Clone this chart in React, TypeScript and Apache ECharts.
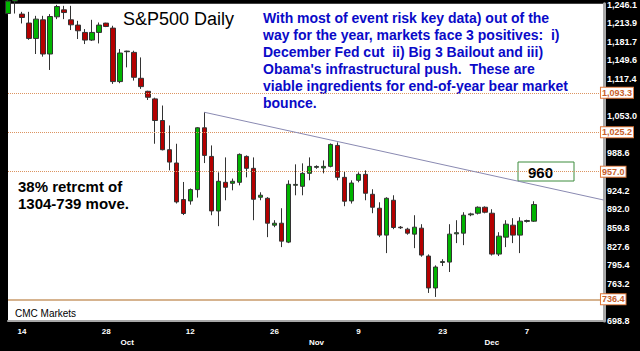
import React, { useEffect, useRef } from "react";
import * as echarts from "echarts";

// Trading days (incl. Sunday sessions) plus empty slots on the right
const DATES = [
  "09-11", "09-12", "09-14", "09-15", "09-16", "09-17", "09-18", "09-19",
  "09-21", "09-22", "09-23", "09-24", "09-25", "09-26",
  "09-28", "09-29", "09-30", "10-01", "10-02", "10-03",
  "10-05", "10-06", "10-07", "10-08", "10-09", "10-10",
  "10-12", "10-13", "10-14", "10-15", "10-16", "10-17",
  "10-19", "10-20", "10-21", "10-22", "10-23", "10-24",
  "10-26", "10-27", "10-28", "10-29", "10-30", "10-31",
  "11-02", "11-03", "11-04", "11-05", "11-06", "11-07",
  "11-09", "11-10", "11-11", "11-12", "11-13", "11-14",
  "11-16", "11-17", "11-18", "11-19", "11-20", "11-21",
  "11-23", "11-24", "11-25", "11-26", "11-27", "11-28",
  "11-30", "12-01", "12-02", "12-03", "12-04", "12-05",
  "12-07", "12-08",
  "12-09", "12-10", "12-11", "12-12", "12-14", "12-15", "12-16", "12-17", "12-18", "12-19",
];

const OPEN = [
  1230.5, 1252, 1229.5, 1214, 1187.4, 1219.6, 1160.5, 1224.8,
  1236.9, 1219.6, 1210.5, 1197.8, 1184.6, 1197.8,
  1213.9, 1205.3, 1112.8, 1164.5, 1163.3, 1118.5,
  1096, 1082.9, 1045.5, 995, 972, 908.8,
  906.4, 926, 1032.9, 983.4, 889.1, 938.6,
  936.9, 938.6, 983.4, 962.8, 912.8, 911,
  864.5, 867.9, 835.2, 933.5, 931.7, 954.1,
  964.5, 963.5, 966.2, 1002.4, 947.2, 906.4,
  942.1, 952.4, 917.9, 893.8, 847.3, 907.6,
  861, 857.6, 849, 859.3, 811.1, 755.9,
  800, 800.7, 849.5, 850.7, 882.5, 885.2,
  895.5, 885.2, 814.5, 843.8, 864.5, 847.3,
  871, 871.4,
];
const CLOSE = [
  1252, 1258, 1223.6, 1187.4, 1220.8, 1160.5, 1225.3, 1242.6,
  1232.2, 1211, 1200.7, 1184.6, 1197.8, 1210.5,
  1208.1, 1112.8, 1162.2, 1165.5, 1120.2, 1104.1,
  1085.7, 1045.5, 995, 973.6, 904.7, 884.7,
  926, 1032.9, 985.2, 889.1, 940.4, 930,
  940.4, 986.9, 962.8, 909.3, 916.3, 867.9,
  867.9, 836.9, 935.2, 935, 954.1, 966.2,
  966, 966.2, 1004.1, 947.2, 905.9, 937.4,
  952.4, 919.7, 895.5, 847.3, 911, 860.5,
  860, 850.7, 861, 812.8, 755.9, 792.1,
  801.5, 849, 851.5, 881.7, 884, 895.5,
  886.9, 814.5, 845.5, 866.2, 847.3, 871.4,
  872.5, 900.1,
];
const LOW = [
  1229, 1230.5, 1213.3, 1185, 1160.5, 1155.9, 1132.9, 1220.8,
  1220.8, 1201.9, 1186.4, 1177.7, 1183, 1178.8,
  1207, 1108.8, 1110, 1137.4, 1114.5, 1100.2,
  1081, 1005.3, 993.8, 959.3, 902, 882,
  900, 912.2, 971.9, 881.7, 862.8, 907.6,
  924.8, 933.4, 947.2, 873.1, 907.6, 843.8,
  861, 826.6, 833.5, 916.2, 916.2, 942.1,
  962, 954.1, 964.5, 942.1, 897.3, 901.9,
  938.6, 907.6, 885.2, 843.8, 816.2, 857.6,
  858, 848, 824.8, 810, 747.3, 740.4,
  793.8, 783.5, 833.5, 830, 880, 883,
  885, 812, 811.1, 826.6, 833.5, 816.2,
  869, 870,
];
const HIGH = [
  1258, 1262, 1233.4, 1233.4, 1226.5, 1226.5, 1229.5, 1245.5,
  1243.8, 1243.8, 1217.9, 1203.6, 1219.6, 1215,
  1214.5, 1209.3, 1169.1, 1166.2, 1166.2, 1154.6,
  1097, 1085, 1071.4, 1036.9, 1005.3, 939.2,
  928, 1034, 1059.8, 1002.4, 955.9, 981.7,
  945.1, 988.6, 985.2, 981.7, 921.4, 913,
  873.1, 893.8, 942.1, 969.7, 971.4, 981.7,
  968, 976.5, 1005.8, 1007.6, 957.6, 942.1,
  955.9, 959.3, 926.6, 904.1, 912.8, 916.2,
  863, 860, 881.7, 866.2, 814, 795,
  805.7, 866.2, 873.1, 886.9, 886, 897,
  897, 892.1, 852.4, 873.1, 876.6, 878.3,
  874, 905.9,
];

const Y_TICKS = [698.8, 763.2, 795.4, 827.6, 859.8, 892.0, 924.2, 988.6, 1053.0, 1117.4, 1149.6, 1181.7, 1213.9, 1246.1];
const DAY_TICKS = ["09-14", "09-28", "10-12", "10-26", "11-09", "11-23", "12-07"];
const MONTH_TICKS = ["10-01", "11-02", "12-01"];
const MONTH_NAMES = ["Oct", "Nov", "Dec"];
const FIB_LEVELS = [1093.3, 1025.2, 957.0];
const SUPPORT_LEVEL = 736.4;
const LAST_PRICE = 900.1;
const TREND_START: [string, number] = ["10-14", 1059.8];
const TREND_END: [string, number] = ["12-19", 907.9];

const NOTE_LINES = [
  "With most of event risk key data) out of the",
  "way for the year, markets face 3 positives:  i)",
  "December Fed cut  ii) Big 3 Bailout and iii)",
  "Obama's infrastructural push.  These are",
  "viable ingredients for end-of-year bear market",
  "bounce.",
];

const fmt = (v: number) =>
  Number(v).toLocaleString("en-US", { minimumFractionDigits: 1, maximumFractionDigits: 1 });

export default function App() {
  const ref = useRef<HTMLDivElement>(null);
  useEffect(() => {
    if (!ref.current) return;
    const chart = echarts.init(ref.current, null, { renderer: "svg" });
    const FONT = "Liberation Sans";
    const orangeLabel = {
      show: true,
      position: "end",
      distance: -3,
      formatter: (p: any) => fmt(p.value),
      color: "#c8602a",
      fontWeight: "bold",
      fontSize: 9,
      fontFamily: FONT,
      backgroundColor: "#ffffff",
      borderColor: "#e07a3c",
      borderWidth: 1,
      padding: [1, 1, 0, 1],
    };
    const greenLabel = {
      ...orangeLabel,
      color: "#00a000",
      borderColor: "#22aa22",
    };
    const data = OPEN.map((o, i) => [o, CLOSE[i], LOW[i], HIGH[i]]);

    chart.setOption({
      animation: false,
      backgroundColor: "#000000",
      grid: {
        left: 8,
        top: 3,
        width: 596,
        height: 318,
        show: true,
        backgroundColor: "#ffffff",
        borderWidth: 0,
      },
      xAxis: [
        {
          type: "category",
          data: DATES,
          boundaryGap: false,
          axisLine: { show: true, lineStyle: { color: "#a8a8a8", width: 2 } },
          axisTick: { show: false },
          splitLine: { show: false },
          axisLabel: {
            interval: (_i: number, v: string) => DAY_TICKS.includes(v),
            formatter: (v: string) => String(Number(v.slice(3))),
            color: "#ffffff",
            fontWeight: "bold",
            fontSize: 8,
            fontFamily: FONT,
            margin: 6,
          },
        },
        {
          type: "category",
          data: DATES,
          boundaryGap: false,
          position: "bottom",
          offset: 11,
          axisLine: { show: false },
          axisTick: { show: false },
          splitLine: { show: false },
          axisLabel: {
            interval: (_i: number, v: string) => MONTH_TICKS.includes(v),
            formatter: (v: string) => MONTH_NAMES[MONTH_TICKS.indexOf(v)] || "",
            color: "#ffffff",
            fontWeight: "bold",
            fontSize: 8,
            fontFamily: FONT,
            margin: 6,
          },
        },
      ],
      yAxis: {
        type: "value",
        position: "right",
        min: 698.8,
        max: 1247.3,
        axisLine: { show: true, lineStyle: { color: "#a8a8a8", width: 3 } },
        axisTick: { show: false },
        splitLine: { show: false },
        axisLabel: {
          customValues: Y_TICKS,
          formatter: (v: number) => fmt(v),
          color: "#ffffff",
          fontWeight: "bold",
          fontSize: 9,
          fontFamily: FONT,
          margin: 3,
          align: "left",
        },
      },
      series: [
        {
          type: "candlestick",
          xAxisIndex: 0,
          data,
          barWidth: 5,
          clip: true,
          itemStyle: {
            color: "#00b400",
            color0: "#b40000",
            borderColor: "#333333",
            borderColor0: "#333333",
            borderWidth: 1,
          },
          markLine: {
            silent: true,
            symbol: ["none", "none"],
            animation: false,
            data: [
              ...FIB_LEVELS.map((v) => ({
                yAxis: v,
                lineStyle: { type: "dotted", color: "#dc9460", width: 1 },
                label: orangeLabel,
              })),
              {
                yAxis: SUPPORT_LEVEL,
                lineStyle: { type: "solid", color: "#c89a6a", width: 1.5 },
                label: orangeLabel,
              },
              {
                yAxis: LAST_PRICE,
                lineStyle: { opacity: 0, width: 0 },
                label: greenLabel,
              },
              [
                {
                  coord: TREND_START,
                  lineStyle: { type: "solid", color: "#8a8ab2", width: 1 },
                  label: { show: false },
                },
                { coord: TREND_END },
              ],
            ],
          },
        },
      ],
      graphic: [
        {
          type: "text",
          x: 123,
          y: 19,
          style: {
            text: "S&P500 Daily",
            font: `18px "${FONT}"`,
            fill: "#000000",
            verticalAlign: "middle",
          },
        },
        {
          type: "text",
          x: 263,
          y: 9,
          style: {
            text: NOTE_LINES.join("\n"),
            font: `bold 14px "${FONT}"`,
            lineHeight: 17,
            fill: "#0a0ac8",
            verticalAlign: "top",
          },
        },
        {
          type: "text",
          x: 18,
          y: 177.5,
          style: {
            text: "38% retrcmt of\n1304-739 move.",
            font: `bold 15px "${FONT}"`,
            lineHeight: 17,
            fill: "#000000",
            verticalAlign: "top",
          },
        },
        {
          type: "text",
          x: 15,
          y: 313,
          style: {
            text: "CMC Markets",
            font: `10px "${FONT}"`,
            fill: "#000000",
            verticalAlign: "middle",
          },
        },
        {
          type: "rect",
          shape: { x: 518, y: 162, width: 56, height: 19 },
          style: { fill: "#ffffff", stroke: "#3c8c3c", lineWidth: 1 },
        },
        {
          type: "text",
          x: 528,
          y: 172,
          style: {
            text: "960",
            font: `bold 15px "${FONT}"`,
            fill: "#000000",
            verticalAlign: "middle",
          },
        },
      ],
    });
    return () => chart.dispose();
  }, []);
  return (
    <div
      ref={ref}
      style={{ position: "absolute", left: 0, top: 0, width: 640, height: 351 }}
    />
  );
}
